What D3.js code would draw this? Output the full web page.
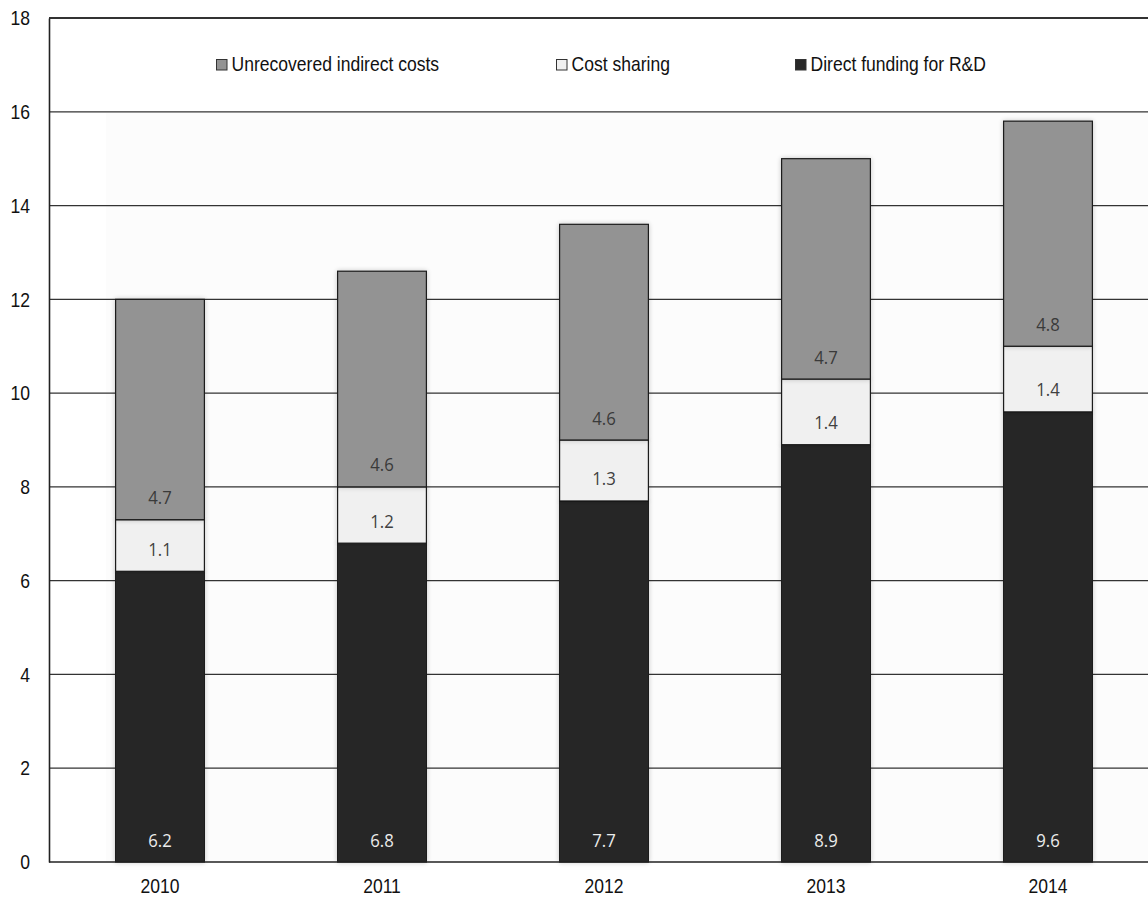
<!DOCTYPE html>
<html>
<head>
<meta charset="utf-8">
<script src="https://cdn.jsdelivr.net/npm/d3@7"></script>
<style>
  html, body { margin: 0; padding: 0; background: #fff; }
  svg { display: block; }
  .narrow { font-family: "Liberation Sans", Arial, sans-serif; font-weight: normal; }
</style>
</head>
<body>
<svg id="chart" width="1148" height="898"></svg>
<script>
const years = ["2010", "2011", "2012", "2013", "2014"];
const directFunding = [6.2, 6.8, 7.7, 8.9, 9.6];
const costSharing = [1.1, 1.2, 1.3, 1.4, 1.4];
const unrecoveredIndirect = [4.7, 4.6, 4.6, 4.7, 4.8];
const seriesNames = ["Unrecovered indirect costs", "Cost sharing", "Direct funding for R&D"];
const yTicks = [0, 2, 4, 6, 8, 10, 12, 14, 16, 18];

(function () {
const seriesDefs = [
  { key: "direct", name: seriesNames[2], values: directFunding, fill: "#282828", text: "#ececec" },
  { key: "cost", name: seriesNames[1], values: costSharing, fill: "#f0f0f0", text: "#404040" },
  { key: "unrec", name: seriesNames[0], values: unrecoveredIndirect, fill: "#939393", text: "#3a3a3a" }
];

const rows = years.map((yr, i) => ({ year: yr, direct: directFunding[i], cost: costSharing[i], unrec: unrecoveredIndirect[i] }));
const stacked = d3.stack().keys(["direct", "cost", "unrec"])(rows);

const svg = d3.select("#chart");
const plotLeft = 49, plotTop = 18, plotBottom = 862, bandRight = 1159;

function squeezeText(sel, factor) {
  sel.each(function () {
    const w = this.getComputedTextLength();
    d3.select(this).attr("textLength", w * factor).attr("lengthAdjust", "spacingAndGlyphs");
  });
}
function narrowText(sel) {
  sel.attr("class", "narrow").attr("font-size", 21).attr("fill", "#111");
  squeezeText(sel, 0.835);
}

const x = d3.scaleBand().domain(years).range([plotLeft, bandRight]).paddingInner(0.6).paddingOuter(0.3);
const y = d3.scaleLinear().domain([0, 18]).range([plotBottom, plotTop]);

// defs: soft shadow
const defs = svg.append("defs");
const f = defs.append("filter").attr("id", "shadow").attr("x", "-20%").attr("y", "-5%").attr("width", "140%").attr("height", "110%");
f.append("feGaussianBlur").attr("in", "SourceAlpha").attr("stdDeviation", 2.5).attr("result", "blur");
f.append("feComponentTransfer").attr("in", "blur").attr("result", "sh")
  .append("feFuncA").attr("type", "linear").attr("slope", 0.22);
const fm = f.append("feMerge");
fm.append("feMergeNode").attr("in", "sh");
fm.append("feMergeNode").attr("in", "SourceGraphic");

// faint background panel
svg.append("rect")
  .attr("x", 106).attr("y", y(16) + 1)
  .attr("width", 1148 - 106).attr("height", plotBottom - y(16) - 1)
  .attr("fill", "#fcfcfc");

// gridlines
svg.append("g")
  .selectAll("line")
  .data(yTicks.filter(t => t > 0))
  .join("line")
  .attr("x1", plotLeft).attr("x2", 1148)
  .attr("y1", d => y(d)).attr("y2", d => y(d))
  .attr("stroke", "#333").attr("stroke-width", 1.3);

// y axis
const yAxis = d3.axisLeft(y).tickValues(yTicks).tickSize(0).tickPadding(19);
const yg = svg.append("g").attr("transform", `translate(${plotLeft},0)`).call(yAxis);
yg.attr("font-family", null).attr("font-size", null);
yg.select(".domain").attr("stroke", "#222").attr("stroke-width", 1.6);
narrowText(yg.selectAll("text"));

// bars
const barG = svg.append("g");
stacked.forEach((layer, li) => {
  const def = seriesDefs[li];
  barG.append("g")
    .selectAll("rect")
    .data(layer)
    .join("rect")
    .attr("x", d => x(d.data.year))
    .attr("width", x.bandwidth())
    .attr("y", d => y(d[1]))
    .attr("height", d => y(d[0]) - y(d[1]))
    .attr("fill", def.fill)
    .attr("stroke", "#1a1a1a")
    .attr("stroke-width", 1.2)
    .attr("filter", "url(#shadow)");
});

// labels
const labG = svg.append("g");
stacked.forEach((layer, li) => {
  const def = seriesDefs[li];
  const t = labG.append("g")
    .selectAll("text")
    .data(layer)
    .join("text")
    .attr("x", d => x(d.data.year) + x.bandwidth() / 2)
    .attr("y", d => y(d[0]) - 15.5)
    .attr("text-anchor", "middle")
    .attr("font-family", "'Open Sans', sans-serif")
    .attr("font-size", 19)
    .attr("fill", def.text)
    .text(d => d3.format(".1f")(d[1] - d[0]));
  squeezeText(t, 0.88);
});

// x axis
const xAxis = d3.axisBottom(x).tickSize(0).tickPadding(0);
const xg = svg.append("g").attr("transform", `translate(0,${plotBottom})`).call(xAxis);
xg.attr("font-family", null).attr("font-size", null);
xg.select(".domain").remove();
xg.append("line").attr("x1", plotLeft).attr("x2", 1148).attr("y1", 0).attr("y2", 0)
  .attr("stroke", "#222").attr("stroke-width", 1.6);
xg.selectAll(".tick text").attr("dy", null).attr("y", 31);
narrowText(xg.selectAll(".tick text"));

// top border
svg.append("line").attr("x1", plotLeft).attr("x2", 1148).attr("y1", plotTop).attr("y2", plotTop)
  .attr("stroke", "#222").attr("stroke-width", 1.6);

// legend
const legendItems = [
  { name: seriesNames[0], fill: "#939393", x: 216.5 },
  { name: seriesNames[1], fill: "#f0f0f0", x: 556.5 },
  { name: seriesNames[2], fill: "#282828", x: 795.5 }
];
const lg = svg.append("g");
const items = lg.selectAll("g").data(legendItems).join("g")
  .attr("transform", d => `translate(${d.x},59.5)`);
items.append("rect").attr("width", 10.5).attr("height", 10.5)
  .attr("fill", d => d.fill).attr("stroke", "#333").attr("stroke-width", 1);
const lt = items.append("text").attr("x", 15).attr("y", 11.5).text(d => d.name);
narrowText(lt);
})();
</script>
</body>
</html>
